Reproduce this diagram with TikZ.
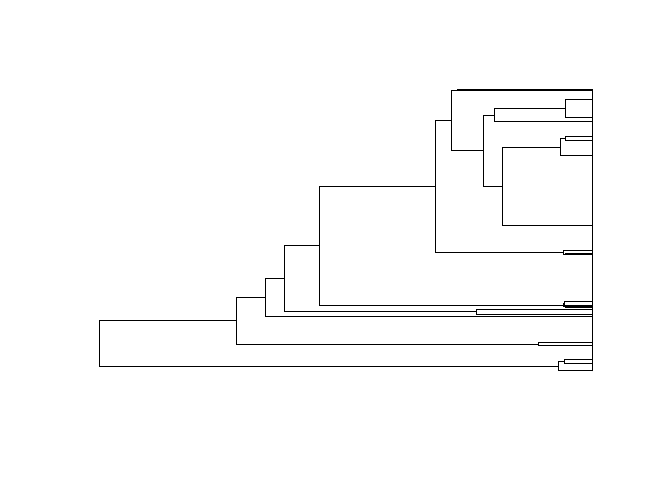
\documentclass[tikz,border=0pt]{standalone}
\begin{document}
\begin{tikzpicture}[x=1pt,y=-1pt,
  branch/.style={draw=black,line width=0.75pt,line cap=rect}]
\useasboundingbox (0,0) rectangle (672,480);
% internal nodes
\coordinate (root) at (99,343.5);
\coordinate (A) at (236.5,320.5);
\coordinate (P) at (558,366);
\coordinate (W) at (564,361.5);
\coordinate (B) at (265,297.8);
\coordinate (Q) at (538,344);
\coordinate (C) at (284.3,278.7);
\coordinate (D) at (319,245.8);
\coordinate (R) at (476,311.7);
\coordinate (E) at (435,186.5);
\coordinate (S) at (563,305);
\coordinate (S2) at (564.5,303.2);
\coordinate (S3) at (565,306.8);
\coordinate (F) at (451.7,120.4);
\coordinate (T) at (563,252);
\coordinate (T2) at (565,254);
\coordinate (G) at (483.3,150.6);
\coordinate (U) at (457,90);
\coordinate (H) at (494,115);
\coordinate (V) at (565,108.5);
\coordinate (I) at (502.3,185.9);
\coordinate (J) at (560,146.9);
\coordinate (K) at (565,138.7);
% leaves
\coordinate (u1) at (592,89.3);
\coordinate (u2) at (592,90.7);
\coordinate (v1) at (592,99.7);
\coordinate (v2) at (592,117.3);
\coordinate (h1) at (592,121.7);
\coordinate (k1) at (592,136.7);
\coordinate (k2) at (592,140.7);
\coordinate (j1) at (592,155);
\coordinate (i1) at (592,225);
\coordinate (t1) at (592,250);
\coordinate (t2) at (592,253.2);
\coordinate (t3) at (592,254.8);
\coordinate (s1) at (592,301.5);
\coordinate (s2) at (592,304.9);
\coordinate (s3) at (592,306);
\coordinate (s4) at (592,307.6);
\coordinate (r1) at (592,309.2);
\coordinate (r2) at (592,314.2);
\coordinate (b1) at (592,316.7);
\coordinate (q1) at (592,342.6);
\coordinate (q2) at (592,345.4);
\coordinate (w1) at (592,359.3);
\coordinate (w2) at (592,363.7);
\coordinate (p1) at (592,370.5);
\coordinate (axtop) at (592,89);
\coordinate (axbot) at (592,371);
% branches
\draw[branch] (root) |- (A);
\draw[branch] (root) |- (P);
\draw[branch] (A) |- (B);
\draw[branch] (A) |- (Q);
\draw[branch] (Q) |- (q1);
\draw[branch] (Q) |- (q2);
\draw[branch] (P) |- (W);
\draw[branch] (P) |- (p1);
\draw[branch] (W) |- (w1);
\draw[branch] (W) |- (w2);
\draw[branch] (B) |- (C);
\draw[branch] (B) |- (b1);
\draw[branch] (C) |- (D);
\draw[branch] (C) |- (R);
\draw[branch] (R) |- (r1);
\draw[branch] (R) |- (r2);
\draw[branch] (D) |- (E);
\draw[branch] (D) |- (S);
\draw[branch] (S) |- (S2);
\draw[branch] (S) |- (S3);
\draw[branch] (S2) |- (s1);
\draw[branch] (S2) |- (s2);
\draw[branch] (S3) |- (s3);
\draw[branch] (S3) |- (s4);
\draw[branch] (E) |- (F);
\draw[branch] (E) |- (T);
\draw[branch] (T) |- (t1);
\draw[branch] (T) |- (T2);
\draw[branch] (T2) |- (t2);
\draw[branch] (T2) |- (t3);
\draw[branch] (F) |- (U);
\draw[branch] (F) |- (G);
\draw[branch] (U) |- (u1);
\draw[branch] (U) |- (u2);
\draw[branch] (G) |- (H);
\draw[branch] (G) |- (I);
\draw[branch] (H) |- (V);
\draw[branch] (H) |- (h1);
\draw[branch] (V) |- (v1);
\draw[branch] (V) |- (v2);
\draw[branch] (I) |- (J);
\draw[branch] (I) |- (i1);
\draw[branch] (J) |- (K);
\draw[branch] (J) |- (j1);
\draw[branch] (K) |- (k1);
\draw[branch] (K) |- (k2);
\draw[branch] (axtop) -- (axbot);
\end{tikzpicture}
\end{document}
